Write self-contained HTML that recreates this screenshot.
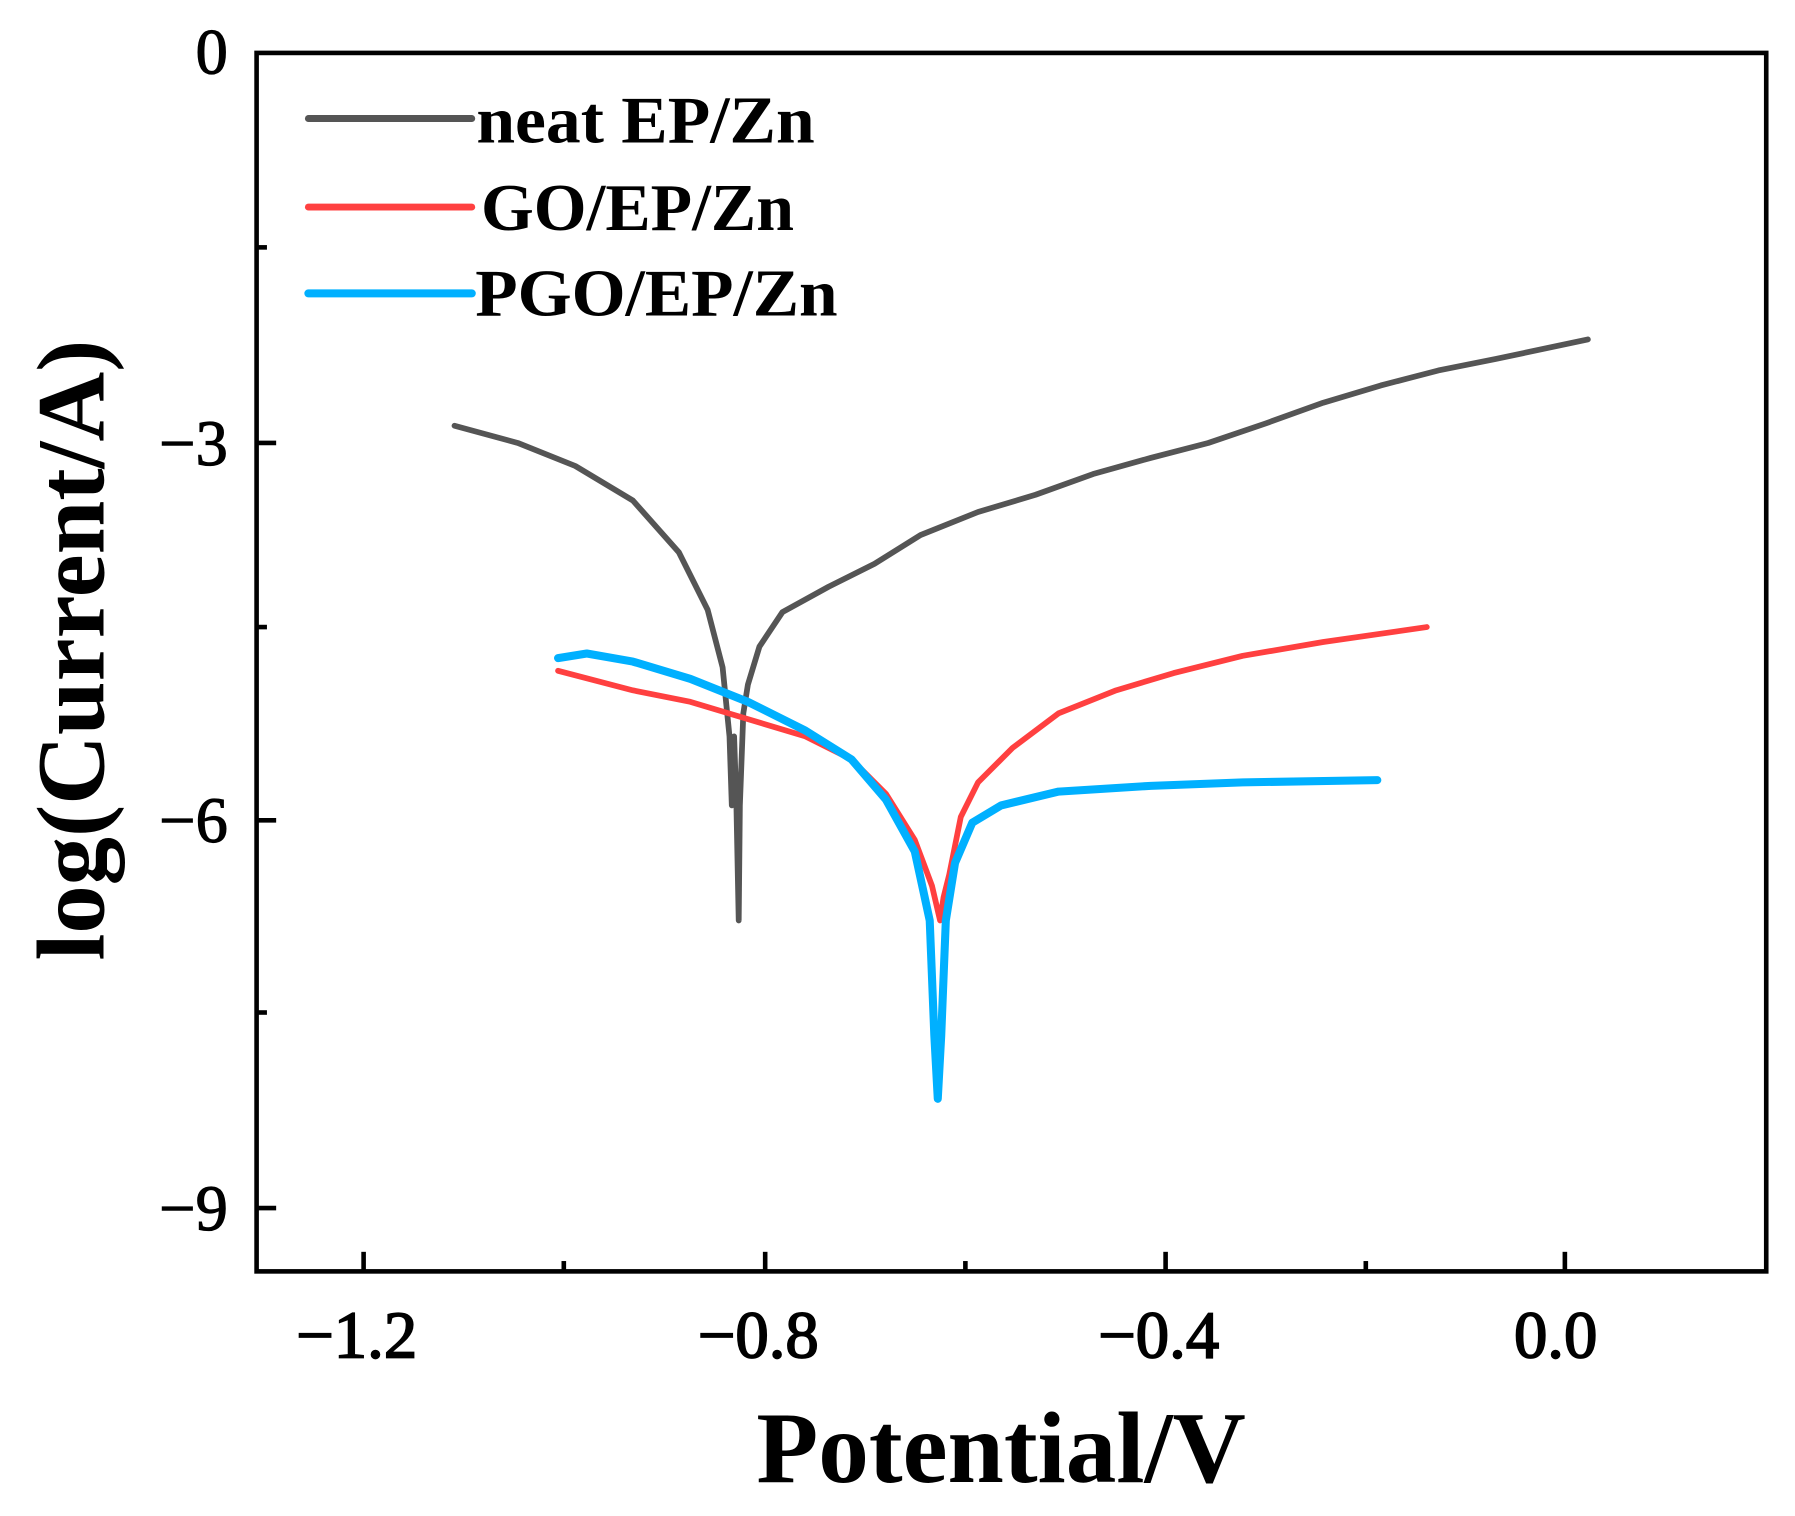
<!DOCTYPE html>
<html><head><style>html,body{margin:0;padding:0;background:#fff}svg{display:block}</style></head>
<body>
<svg width="1795" height="1516" viewBox="0 0 1560 1317.6" preserveAspectRatio="none" xmlns="http://www.w3.org/2000/svg">
<rect x="0" y="0" width="1560" height="1318" fill="#fff"/>
<g stroke="#000" stroke-width="4" fill="none">
<rect x="223" y="46" width="1312" height="1059"/>
<line x1="316" y1="1105" x2="316" y2="1088"/><line x1="490" y1="1105" x2="490" y2="1096"/>
<line x1="665" y1="1105" x2="665" y2="1088"/><line x1="839" y1="1105" x2="839" y2="1096"/>
<line x1="1013" y1="1105" x2="1013" y2="1088"/><line x1="1187" y1="1105" x2="1187" y2="1096"/>
<line x1="1360" y1="1105" x2="1360" y2="1088"/>
<line x1="223" y1="385" x2="240" y2="385"/><line x1="223" y1="713" x2="240" y2="713"/><line x1="223" y1="1050" x2="240" y2="1050"/>
<line x1="223" y1="215" x2="232" y2="215"/><line x1="223" y1="545" x2="232" y2="545"/><line x1="223" y1="880" x2="232" y2="880"/>
</g>
<g font-family="Liberation Serif, serif" font-size="56" text-anchor="end" fill="#000" stroke="#000" stroke-width="1">
<text x="198" y="64">0</text><text x="198" y="404">−3</text><text x="198" y="732">−6</text><text x="198" y="1069">−9</text>
</g>
<g font-family="Liberation Serif, serif" font-size="58" text-anchor="middle" fill="#000" stroke="#000" stroke-width="1.5">
<text x="310" y="1180">−1.2</text><text x="659" y="1180">−0.8</text><text x="1007" y="1180">−0.4</text><text x="1352" y="1180">0.0</text>
</g>
<text x="870" y="1288" font-family="Liberation Serif, serif" font-weight="bold" font-size="88" text-anchor="middle">Potential/V</text>
<text transform="translate(90,565) rotate(-90)" font-family="Liberation Serif, serif" font-weight="bold" font-size="84" text-anchor="middle">log(Current/A)</text>
<g fill="none" stroke-linejoin="round" stroke-linecap="round">
<polyline stroke="#555" stroke-width="5" points="395,370 450,385 500,405 550,435 590,480 615,530 628,580 634,640 636,700 638,640 640,700 642,800 643,700 646,620 650,595 660,562 680,532 720,510 760,490 800,465 850,445 900,430 950,412 1000,398 1050,385 1100,368 1150,350 1200,335 1250,322 1300,312 1380,295"/>
<polyline stroke="#ff4040" stroke-width="5" points="485,583 550,600 600,610 650,625 700,640 740,660 770,690 795,730 810,770 817,800 820,780 825,760 835,710 850,680 880,650 920,620 970,600 1020,585 1080,570 1150,558 1240,545"/>
<polyline stroke="#00b0ff" stroke-width="7" points="485,572 510,568 550,575 600,590 650,610 700,635 740,660 770,695 795,740 808,800 812,900 815,955 818,900 822,800 830,750 845,715 870,700 920,688 1000,683 1080,680 1197,678"/>
<line x1="268" y1="103" x2="410" y2="103" stroke="#555" stroke-width="6"/>
<line x1="268" y1="180" x2="410" y2="180" stroke="#ff4040" stroke-width="6"/>
<line x1="268" y1="255" x2="410" y2="255" stroke="#00b0ff" stroke-width="7"/>
</g>
<g font-family="Liberation Serif, serif" font-weight="bold" font-size="58" fill="#000">
<text x="414" y="124" textLength="294" lengthAdjust="spacingAndGlyphs">neat EP/Zn</text>
<text x="418" y="200" textLength="272" lengthAdjust="spacingAndGlyphs">GO/EP/Zn</text>
<text x="413" y="274" textLength="315" lengthAdjust="spacingAndGlyphs">PGO/EP/Zn</text>
</g>
</svg>
</body></html>
